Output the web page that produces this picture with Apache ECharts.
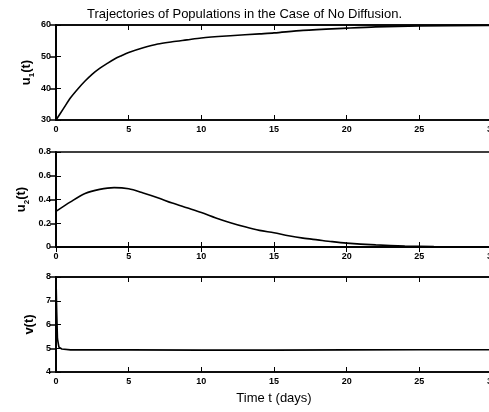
<!DOCTYPE html>
<html>
<head>
<meta charset="utf-8">
<script src="https://cdn.jsdelivr.net/npm/echarts@6/dist/echarts.min.js"></script>
<style>html,body{margin:0;padding:0;background:#fff}#c{width:489px;height:412px}</style>
</head>
<body>
<div id="c"></div>
<script>
var titleText = 'Trajectories of Populations in the Case of No Diffusion.';
var xTicks = [0, 5, 10, 15, 20, 25, 30];

var tU1 = [0, 0.5, 1, 1.5, 2, 2.5, 3, 3.5, 4, 4.5, 5, 6, 7, 8, 9, 10, 12, 14, 15, 17, 20, 22, 25, 30];
var u1Values = [30, 33.5, 37, 39.8, 42.3, 44.5, 46.3, 47.8, 49.2, 50.3, 51.3, 52.8, 54, 54.7, 55.3, 55.9, 56.6, 57.2, 57.5, 58.3, 59, 59.4, 59.7, 59.9];

var tU2 = [0, 1, 2, 3, 4, 5, 6, 7, 8, 9, 10, 11, 12, 13, 14, 15, 16, 17, 18, 19, 20, 22, 24, 26, 28, 30];
var u2Values = [0.30, 0.38, 0.45, 0.485, 0.50, 0.49, 0.455, 0.415, 0.37, 0.33, 0.29, 0.245, 0.205, 0.17, 0.14, 0.12, 0.095, 0.075, 0.06, 0.045, 0.033, 0.018, 0.008, 0.003, 0.001, 0];

var tV = [0, 0.05, 0.1, 0.2, 0.4, 1, 5, 10, 15, 20, 25, 30];
var vValues = [8, 6.5, 5.4, 5.05, 4.97, 4.93, 4.93, 4.92, 4.92, 4.93, 4.94, 4.94];

var u1Ticks = [30, 40, 50, 60];
var u2Ticks = ['0', '0.2', '0.4', '0.6', '0.8'];
var vTicks = [4, 5, 6, 7, 8];

function pairs(t, v) { return t.map(function (x, i) { return [x, v[i]]; }); }

var LW = 1.6;
var FONT = 'Liberation Sans, Arial, sans-serif';
var tickFont = { fontSize: 9, fontWeight: 'bold', color: '#000', fontFamily: FONT };
var nameRich = {
  m: { fontSize: 13, fontWeight: 'bold', color: '#000', fontFamily: FONT, verticalAlign: 'bottom', padding: [0, 0, 3, 0] },
  s: { fontSize: 8, fontWeight: 'bold', color: '#000', fontFamily: FONT, verticalAlign: 'bottom' }
};

var grids = [
  { left: 56, width: 436, top: 25, height: 95 },
  { left: 56, width: 436, top: 152, height: 95 },
  { left: 56, width: 436, top: 277, height: 95 }
];
grids.forEach(function (g) {
  g.show = true; g.borderColor = '#000'; g.borderWidth = LW; g.backgroundColor = 'transparent';
  g.containLabel = false; g.outerBoundsMode = 'none';
});

var xAxes = [], yAxes = [];
for (var i = 0; i < 3; i++) {
  xAxes.push({
    type: 'value', gridIndex: i, min: 0, max: 30, interval: 5, position: 'bottom',
    axisLine: { show: true, lineStyle: { color: '#000', width: LW } },
    axisTick: { show: true, inside: true, length: 5, lineStyle: { color: '#000', width: 1 } },
    axisLabel: Object.assign({ margin: 5, showMaxLabel: true, hideOverlap: false }, tickFont),
    splitLine: { show: false },
    name: i === 2 ? 'Time t (days)' : '', nameLocation: 'middle', nameGap: 20, nameMoveOverlap: false,
    nameTextStyle: { fontSize: 13, color: '#000', fontFamily: FONT }
  });
  xAxes.push({
    type: 'value', gridIndex: i, min: 0, max: 30, interval: 5, position: 'top',
    axisLine: { show: true, lineStyle: { color: '#000', width: LW } },
    axisTick: { show: true, inside: true, length: 5, lineStyle: { color: '#000', width: 1 } },
    axisLabel: { show: false }, splitLine: { show: false }
  });
}

var yDefs = [
  { min: 30, max: 60, interval: 10, name: '{m|u}{s|1}{m|(t)}', gap: 20, fmt: function (v) { return String(v); } },
  { min: 0, max: 0.8, interval: 0.2, name: '{m|u}{s|2}{m|(t)}', gap: 25, fmt: function (v) { return u2Ticks[Math.round(v / 0.2)]; } },
  { min: 4, max: 8, interval: 1, name: '{m|v(t)}', gap: 17, fmt: function (v) { return String(v); } }
];
yDefs.forEach(function (d, i) {
  yAxes.push({
    type: 'value', gridIndex: i, min: d.min, max: d.max, interval: d.interval, position: 'left',
    axisLine: { show: true, lineStyle: { color: '#000', width: LW } },
    axisTick: { show: true, inside: true, length: 5, lineStyle: { color: '#000', width: 1 } },
    axisLabel: Object.assign({ margin: 5, formatter: d.fmt }, tickFont),
    splitLine: { show: false },
    name: d.name, nameLocation: 'middle', nameGap: d.gap, nameRotate: 90, nameMoveOverlap: false,
    nameTextStyle: { rich: nameRich }
  });
  yAxes.push({
    type: 'value', gridIndex: i, min: d.min, max: d.max, interval: d.interval, position: 'right',
    axisLine: { show: true, lineStyle: { color: '#000', width: LW } },
    axisTick: { show: true, inside: true, length: 6, lineStyle: { color: '#000', width: 1.5 } },
    axisLabel: { show: false }, splitLine: { show: false }
  });
});

var lineStyle = { color: '#000', width: LW };
var series = [
  { type: 'line', xAxisIndex: 0, yAxisIndex: 0, data: pairs(tU1, u1Values), smooth: 0.3, showSymbol: false, lineStyle: lineStyle },
  { type: 'line', xAxisIndex: 2, yAxisIndex: 2, data: pairs(tU2, u2Values), smooth: 0.3, showSymbol: false, lineStyle: lineStyle },
  { type: 'line', xAxisIndex: 4, yAxisIndex: 4, data: pairs(tV, vValues), smooth: false, showSymbol: false, lineStyle: lineStyle }
];

var chart = echarts.init(document.getElementById('c'), null, { renderer: 'canvas' });
chart.setOption({
  animation: false,
  backgroundColor: '#fff',
  title: { text: titleText, left: 'center', top: 3, textStyle: { fontSize: 13, fontWeight: 'normal', color: '#000', fontFamily: FONT } },
  grid: grids,
  xAxis: xAxes,
  yAxis: yAxes,
  series: series
});
</script>
</body>
</html>
